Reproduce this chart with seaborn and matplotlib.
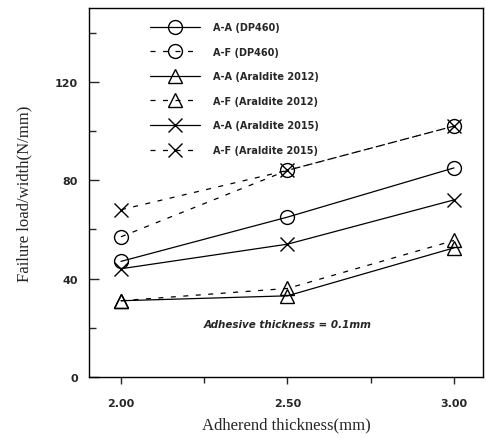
import matplotlib
matplotlib.use("Agg")
import matplotlib.pyplot as plt
import seaborn as sns
import pandas as pd
from matplotlib.ticker import FixedLocator

thickness = [2.0, 2.5, 3.0]
aa_dp460 = [47, 65, 85]
af_dp460 = [57, 84, 102]
aa_ar2012 = [31, 33, 52.5]
af_ar2012 = [31, 36, 55.5]
aa_ar2015 = [44, 54, 72]
af_ar2015 = [68, 84, 102]

labels = ["A-A (DP460)", "A-F (DP460)", "A-A (Araldite 2012)",
          "A-F (Araldite 2012)", "A-A (Araldite 2015)", "A-F (Araldite 2015)"]
series = [aa_dp460, af_dp460, aa_ar2012, af_ar2012, aa_ar2015, af_ar2015]
markers = ["o", "o", "^", "^", "x", "x"]
solid = "-"
dashed = (0, (4, 6))
styles = [solid, dashed, solid, dashed, solid, dashed]

sns.set_style("ticks")
fig = plt.figure(figsize=(4.86, 4.39), dpi=100)
ax = fig.add_axes([89 / 486, (439 - 378) / 439, (483 - 89) / 486, (378 - 9) / 439])

for lab, vals, mk, ls in zip(labels, series, markers, styles):
    df = pd.DataFrame({"x": thickness, "y": vals})
    sns.lineplot(data=df, x="x", y="y", ax=ax, color="black", marker=mk,
                 linestyle=ls, linewidth=0.9, markersize=10,
                 markerfacecolor="none", markeredgecolor="black",
                 markeredgewidth=1.0, label=lab)

ax.set_xlim(1.904, 3.087)
ax.set_ylim(0, 150)
ax.xaxis.set_major_locator(FixedLocator([2.0, 2.5, 3.0]))
ax.xaxis.set_minor_locator(FixedLocator([2.25, 2.75]))
ax.yaxis.set_major_locator(FixedLocator([0, 40, 80, 120]))
ax.yaxis.set_minor_locator(FixedLocator([20, 60, 100, 140]))
ax.set_xticklabels(["2.00", "2.50", "3.00"])
ax.set_yticklabels(["0", "40", "80", "120"])

for t in ax.get_xticklabels() + ax.get_yticklabels():
    t.set_fontfamily("DejaVu Sans")
    t.set_fontweight("bold")
    t.set_fontsize(8)

ax.tick_params(axis="y", which="major", direction="in", length=7, width=1, pad=8)
ax.tick_params(axis="y", which="minor", direction="in", length=5, width=1)
ax.tick_params(axis="x", which="major", direction="out", length=5, width=1, pad=10)
ax.tick_params(axis="x", which="minor", direction="out", length=4, width=1)
for s in ax.spines.values():
    s.set_linewidth(1.0)
    s.set_color("black")

ax.set_xlabel("Adherend thickness(mm)", fontfamily="Liberation Serif", fontsize=12, labelpad=6)
ax.set_ylabel("Failure load/width(N/mm)", fontfamily="Liberation Serif", fontsize=12, labelpad=16)

ax.text(2.5, 21.5, "Adhesive thickness = 0.1mm", ha="center", va="center",
        fontfamily="DejaVu Sans", fontweight="bold", fontstyle="italic", fontsize=7.5)

leg = ax.legend(loc="upper left", bbox_to_anchor=((150 - 89) / 394, (378 - 23) / 369),
                frameon=False, handlelength=5.1, labelspacing=1.5, handletextpad=1.35,
                borderpad=0, borderaxespad=0,
                prop=dict(family="DejaVu Sans", weight="bold", size=7))

fig.savefig("out.png", dpi=100)
